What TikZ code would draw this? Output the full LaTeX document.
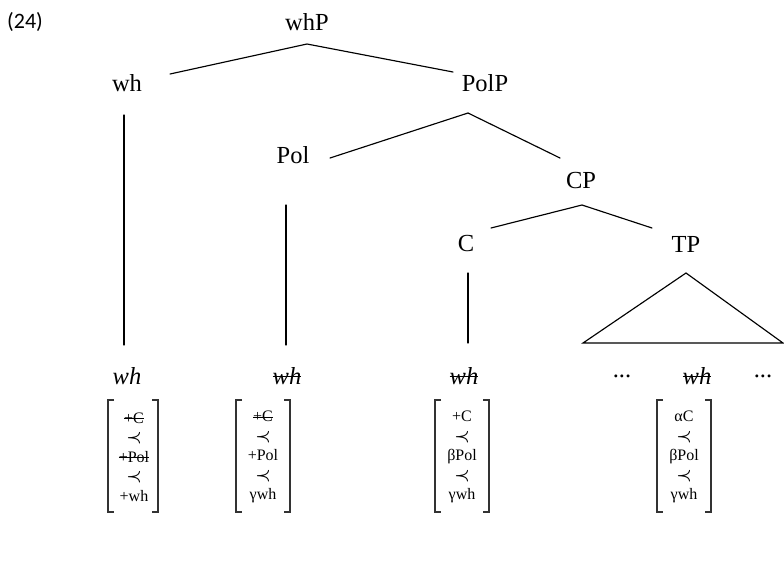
\documentclass[tikz,border=0pt]{standalone}
\usepackage{fontspec}
\setmainfont{Liberation Serif}
\newfontfamily\numfont{Carlito}
\newcommand\strk[2][0.3em]{\setbox0\hbox{#2}\rlap{\rule[#1]{\wd0}{0.06em}}\box0}
\newcommand\prc{$\boldsymbol{\prec}$}
\usepackage{amsmath}
\begin{document}
\begin{tikzpicture}[x=1pt,y=-1pt,
  lab/.style={inner sep=0pt,font=\fontsize{24.5}{28}\selectfont},
  leaf/.style={inner sep=0pt,font=\fontsize{24.5}{28}\selectfont\itshape},
  fm/.style={inner sep=0pt,align=center,font=\fontsize{16}{19.4}\selectfont},
  edge/.style={line width=1.15pt,line cap=round},
  brk/.style={line width=1.2pt,draw=black!80}]
\useasboundingbox (0,0) rectangle (784,566);
\node[anchor=west,inner sep=0pt,font=\numfont\fontsize{22}{26}\selectfont] (num) at (7,22) {(24)};
\node[lab] (whP) at (307,22) {whP};
\node[lab] (wh) at (127,83) {wh};
\node[lab] (PolP) at (485,83) {PolP};
\node[lab] (Pol) at (293,155) {Pol};
\node[lab] (CP) at (581,181) {CP};
\node[lab] (C) at (466,244) {C};
\node[lab] (TP) at (686,244) {TP};
% leaves
\node[leaf] (l1) at (127,376) {wh};
\node[leaf] (l2) at (287,376) {\strk{wh}};
\node[leaf] (l3) at (464,376) {\strk{wh}};
\node[lab] (d1) at (622,376) {...};
\node[leaf] (l4) at (697,376) {\strk{wh}};
\node[lab] (d2) at (763,376) {...};
% connector ends
\coordinate (a0) at (307,44); \coordinate (a1) at (170,74); \coordinate (a2) at (453,72);
\coordinate (b0) at (124,115); \coordinate (b1) at (124,345);
\coordinate (c0) at (468,113); \coordinate (c1) at (330,158); \coordinate (c2) at (560,158);
\coordinate (d0) at (286,205); \coordinate (d1e) at (286,345);
\coordinate (e0) at (582,205); \coordinate (e1) at (491,228); \coordinate (e2) at (652,228);
\coordinate (f0) at (468,273); \coordinate (f1) at (468,343);
\coordinate (t0) at (686,273); \coordinate (t1) at (583,343); \coordinate (t2) at (783,343);
\draw[edge] (a1) -- (a0) -- (a2);
\draw[edge] (b0) -- (b1);
\draw[edge] (c1) -- (c0) -- (c2);
\draw[edge] (d0) -- (d1e);
\draw[edge] (e1) -- (e0) -- (e2);
\draw[edge] (f0) -- (f1);
\draw[edge,line join=miter] (t0) -- (t1) -- (t2) -- cycle;
% feature matrices
\node[fm] (m1) at (134,457) {\strk[0.25em]{+C}\\\prc\\\strk[0.25em]{+Pol}\\\prc\\+wh};
\node[fm] (m2) at (263,457) {\strk[0.25em]{+C}\\\prc\\+Pol\\\prc\\γwh};
\node[fm] (m3) at (462,457) {+C\\\prc\\βPol\\\prc\\γwh};
\node[fm] (m4) at (684,457) {αC\\\prc\\βPol\\\prc\\γwh};
\foreach \m/\x/\h in {m1/133/25,m2/263/27,m3/462/27,m4/684/27}{
  \draw[brk] (\x-\h+6,400) -- (\x-\h,400) -- (\x-\h,512) -- (\x-\h+6,512);
  \draw[brk] (\x+\h-6,400) -- (\x+\h,400) -- (\x+\h,512) -- (\x+\h-6,512);
}
\end{tikzpicture}
\end{document}
